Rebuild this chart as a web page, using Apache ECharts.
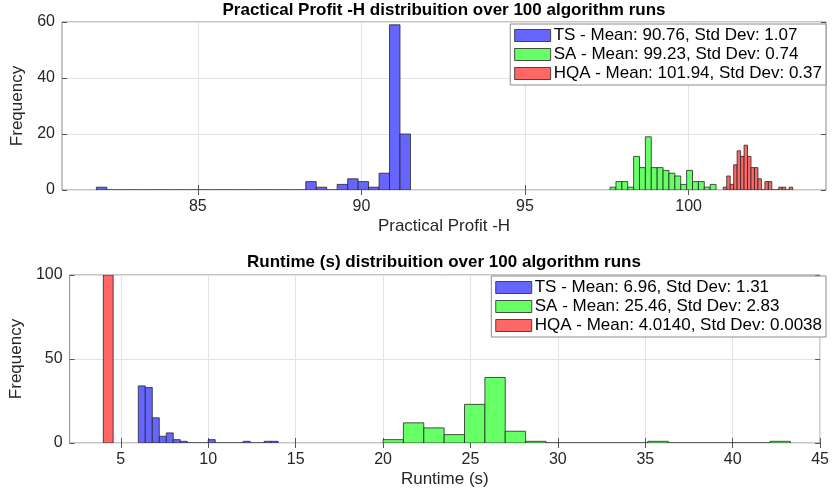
<!DOCTYPE html>
<html>
<head>
<meta charset="utf-8">
<script src="https://cdn.jsdelivr.net/npm/echarts@6/dist/echarts.min.js"></script>
<style>
  html, body { margin: 0; padding: 0; background: #fff; }
  #chart { width: 832px; height: 494px; }
</style>
</head>
<body>
<div id="chart"></div>
<script>
// Practical Profit -H histograms: first bin edge, bin width, counts per bin
const profitTsStart = 81.9, profitTsWidth = 0.32;
const profitTsCounts = [1, 0, 0, 0, 0, 0, 0, 0, 0, 0, 0, 0, 0, 0, 0, 0, 0, 0, 0, 0, 3, 1, 0, 2, 4, 3, 1, 6, 59, 20];
const profitSaStart = 97.6, profitSaWidth = 0.18;
const profitSaCounts = [1, 3, 3, 1, 12, 8, 19, 8, 8, 7, 6, 5, 2, 7, 3, 3, 1, 2];
const profitHqaStart = 101.06, profitHqaWidth = 0.106;
const profitHqaCounts = [1, 5, 2, 9, 14, 12, 16, 12, 8, 8, 4, 0, 3, 3, 0, 0, 1, 1, 0, 1];

// Runtime histograms
const runTsStart = 6.0, runTsWidth = 0.4;
const runTsCounts = [34, 33, 15, 4, 6, 2, 1, 0, 0, 0, 2, 0, 0, 0, 0, 1, 0, 0, 1, 1];
const runSaStart = 20.0, runSaWidth = 1.165;
const runSaCounts = [2, 12, 9, 5, 23, 39, 7, 1, 0, 0, 0, 0, 0, 1, 0, 0, 0, 0, 0, 1];
const runHqaStart = 4.0, runHqaWidth = 0.56;
const runHqaCounts = [100];

const profitLegend = ['TS - Mean: 90.76, Std Dev: 1.07', 'SA - Mean: 99.23, Std Dev: 0.74', 'HQA - Mean: 101.94, Std Dev: 0.37'];
const runtimeLegend = ['TS - Mean: 6.96, Std Dev: 1.31', 'SA - Mean: 25.46, Std Dev: 2.83', 'HQA - Mean: 4.0140, Std Dev: 0.0038'];

const profitXTicks = [85, 90, 95, 100];
const runtimeXTicks = [5, 10, 15, 20, 25, 30, 35, 40, 45];

const BLUE = '#6666ff', GREEN = '#66ff66', RED = '#ff6666';
const EDGE = '#262626';
const FONT = 'Liberation Sans';

function hist(name, start, width, counts, color, ax) {
  const data = counts.map((c, i) => [start + i * width, start + (i + 1) * width, c]);
  return {
    type: 'custom',
    name: name,
    xAxisIndex: ax,
    yAxisIndex: ax,
    clip: true,
    itemStyle: { color: color, borderColor: EDGE, borderWidth: 0.8 },
    encode: { x: [0, 1], y: 2 },
    data: data,
    renderItem: function (params, api) {
      const p0 = api.coord([api.value(0), api.value(2)]);
      const p1 = api.coord([api.value(1), 0]);
      return {
        type: 'rect',
        shape: { x: p0[0], y: p0[1], width: p1[0] - p0[0], height: p1[1] - p0[1] },
        style: { fill: color, stroke: EDGE, lineWidth: 0.8 }
      };
    }
  };
}

function xAxes(grid, min, max, ticks, name) {
  return [{
    type: 'value', gridIndex: grid, position: 'bottom', min: min, max: max,
    name: name, nameLocation: 'middle', nameGap: 28,
    nameTextStyle: { fontSize: 17, color: '#262626', fontFamily: FONT },
    axisLine: { show: false },
    axisTick: { show: true, inside: true, length: 5, customValues: ticks, lineStyle: { color: '#555' } },
    axisLabel: { customValues: ticks, fontSize: 16, color: '#262626', fontFamily: FONT, margin: 9 },
    splitLine: { show: true, lineStyle: { color: '#e3e3e3' } }
  }, {
    type: 'value', gridIndex: grid, position: 'top', min: min, max: max,
    axisLine: { show: false },
    axisTick: { show: true, inside: true, length: 5, customValues: ticks, lineStyle: { color: '#555' } },
    axisLabel: { show: false },
    splitLine: { show: false }
  }];
}

function yAxes(grid, max, interval) {
  return [{
    type: 'value', gridIndex: grid, position: 'left', min: 0, max: max, interval: interval,
    name: 'Frequency', nameLocation: 'middle', nameGap: 33,
    nameTextStyle: { fontSize: 17, color: '#262626', fontFamily: FONT },
    axisLine: { show: false },
    axisTick: { show: true, inside: true, length: 5, lineStyle: { color: '#555' } },
    axisLabel: { fontSize: 16, color: '#262626', fontFamily: FONT, margin: 7 },
    splitLine: { show: true, lineStyle: { color: '#e3e3e3' } }
  }, {
    type: 'value', gridIndex: grid, position: 'right', min: 0, max: max, interval: interval,
    axisLine: { show: false },
    axisTick: { show: true, inside: true, length: 5, lineStyle: { color: '#555' } },
    axisLabel: { show: false },
    splitLine: { show: false }
  }];
}

function legend(names, top) {
  return {
    orient: 'vertical', right: 6, top: top,
    data: names,
    icon: 'rect', itemWidth: 36, itemHeight: 12, itemGap: 2,
    padding: [3, 4, 3, 4],
    backgroundColor: '#fff', borderColor: '#8c8c8c', borderWidth: 1, borderRadius: 0,
    itemStyle: { borderColor: EDGE, borderWidth: 0.8 },
    textStyle: { fontSize: 17, color: '#000', fontFamily: FONT, padding: [0, 0, 0, -2] },
    selectedMode: false
  };
}

const chart = echarts.init(document.getElementById('chart'));
const xa0 = xAxes(0, 80.85, 104.2, profitXTicks, 'Practical Profit -H');
const xa1 = xAxes(1, 2.07, 45, runtimeXTicks, 'Runtime (s)');
const ya0 = yAxes(0, 60, 20);
const ya1 = yAxes(1, 100, 50);

chart.setOption({
  animation: false,
  backgroundColor: '#fff',
  title: [{
    text: 'Practical Profit -H distribuition over 100 algorithm runs',
    left: 444, top: 2, textAlign: 'center', padding: 0,
    textStyle: { fontSize: 17, fontWeight: 'bold', color: '#000', fontFamily: FONT }
  }, {
    text: 'Runtime (s) distribuition over 100 algorithm runs',
    left: 444, top: 254, textAlign: 'center', padding: 0,
    textStyle: { fontSize: 17, fontWeight: 'bold', color: '#000', fontFamily: FONT }
  }],
  grid: [
    { left: 62, right: 6, top: 22, height: 168, show: true, borderColor: '#8c8c8c', borderWidth: 1, backgroundColor: '#fff' },
    { left: 62, right: 6, top: 275, height: 168, show: true, borderColor: '#8c8c8c', borderWidth: 1, backgroundColor: '#fff' }
  ],
  // axis order: [top-bottom, top-top, bottom-bottom, bottom-top]
  xAxis: [xa0[0], xa0[1], xa1[0], xa1[1]],
  yAxis: [ya0[0], ya0[1], ya1[0], ya1[1]],
  legend: [legend(profitLegend, 24), legend(runtimeLegend, 276)],
  series: [
    hist(profitLegend[0], profitTsStart, profitTsWidth, profitTsCounts, BLUE, 0),
    hist(profitLegend[1], profitSaStart, profitSaWidth, profitSaCounts, GREEN, 0),
    hist(profitLegend[2], profitHqaStart, profitHqaWidth, profitHqaCounts, RED, 0),
    hist(runtimeLegend[0], runTsStart, runTsWidth, runTsCounts, BLUE, 2),
    hist(runtimeLegend[1], runSaStart, runSaWidth, runSaCounts, GREEN, 2),
    hist(runtimeLegend[2], runHqaStart, runHqaWidth, runHqaCounts, RED, 2)
  ]
});
</script>
</body>
</html>
